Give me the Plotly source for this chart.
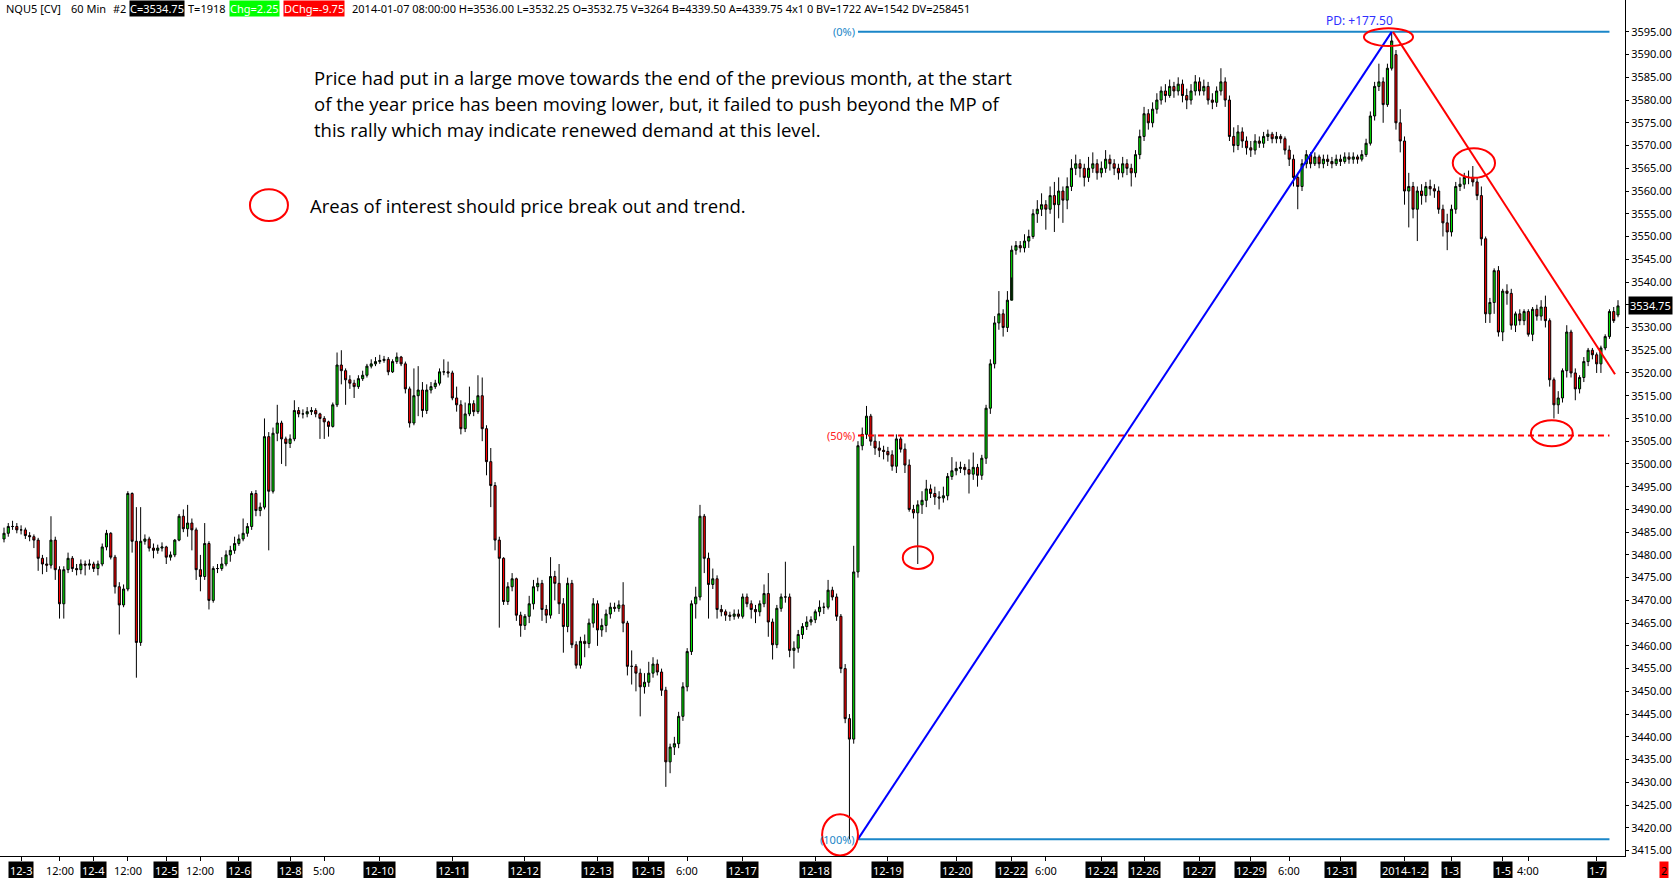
import plotly.graph_objects as go

# NQ 60 min bars, 12-3 to 1-7 (one value per bar)
opens = [
    3483.5, 3484.75, 3486.25, 3486.25, 3485.5, 3485.5, 3484.25, 3484, 3483.25, 3479.25,
    3478, 3477.75, 3483.25, 3476.75, 3469.25, 3476.75, 3479.25, 3477, 3476.75, 3478,
    3477.75, 3478, 3477, 3478, 3481.75, 3484.75, 3479.5, 3473, 3469, 3472.5,
    3493.5, 3483, 3460.75, 3483, 3483.5, 3481.5, 3481, 3481.5, 3481.75, 3479.5,
    3480, 3483.25, 3488.5, 3485.75, 3487, 3485.5, 3476.75, 3475.25, 3482.5, 3470,
    3477, 3477, 3478, 3480, 3481, 3482.5, 3483.5, 3484.75, 3486.25, 3493.5,
    3489.75, 3490.5, 3506, 3494, 3506.75, 3509, 3505.5, 3504.5, 3505.5, 3511.75,
    3511, 3511, 3511.5, 3511.75, 3511, 3510, 3509.25, 3508.25, 3513, 3521.75,
    3520.5, 3518.5, 3517.75, 3517, 3518.75, 3519.5, 3521.5, 3522, 3522.5, 3522.75,
    3523, 3520.25, 3522.5, 3523.5, 3522, 3516.5, 3509, 3515, 3516.25, 3511.75,
    3516.25, 3517, 3517.75, 3520.25, 3520.25, 3520, 3514.5, 3513, 3507.75, 3511,
    3513.25, 3511.5, 3515, 3507.75, 3500.5, 3495.25, 3483.25, 3479.25, 3469.75, 3473,
    3474.75, 3466.75, 3464.5, 3466.5, 3469.25, 3473, 3473.75, 3468, 3466.75, 3475.25,
    3473.75, 3469.25, 3464.25, 3473.75, 3460.25, 3455.75, 3461, 3460.5, 3465, 3469.25,
    3463.5, 3464.5, 3467, 3468.5, 3468.25, 3469, 3465, 3455.5, 3455.5, 3454,
    3451, 3452, 3454, 3456, 3454.25, 3450.25, 3434.5, 3437.75, 3438.5, 3444.5,
    3451, 3458.75, 3469.25, 3470.75, 3488.5, 3479.25, 3473.5, 3474.75, 3468, 3467.5,
    3466.75, 3466.5, 3467, 3466.5, 3470.75, 3469.25, 3468, 3467.5, 3469.25, 3471.5,
    3465.25, 3460.25, 3468.25, 3470.75, 3470.75, 3459, 3459.5, 3462.5, 3464.25, 3465.25,
    3465.75, 3467.5, 3468.5, 3468.5, 3472.25, 3470.75, 3466.5, 3455, 3444, 3439.5,
    3476.25, 3504, 3506.5, 3510.5, 3505, 3503.5, 3503, 3502.75, 3502, 3499.5,
    3505.5, 3503.25, 3499.75, 3490, 3489.25, 3491, 3492, 3494.5, 3493.5, 3492.75,
    3492.5, 3493, 3497.25, 3498.5, 3499, 3499.25, 3498.75, 3497.75, 3499.25, 3497.5,
    3501.25, 3512.25, 3522, 3531, 3533, 3530, 3536, 3547, 3548, 3547.5,
    3549, 3550, 3555, 3556, 3557, 3556, 3559, 3557, 3560, 3558,
    3561, 3565, 3566, 3565, 3563, 3565, 3566, 3564, 3565, 3567,
    3566, 3565, 3564, 3566, 3565, 3564, 3568, 3572, 3577, 3575,
    3578, 3580, 3582, 3581, 3583, 3582, 3583.5, 3581, 3580, 3582,
    3584, 3582, 3583, 3580, 3579.5, 3582, 3584, 3580, 3572, 3570,
    3573, 3571, 3569.5, 3569, 3571, 3570.5, 3572, 3572.5, 3571.5, 3572,
    3571.5, 3569, 3567, 3563, 3561, 3566, 3568, 3566, 3567.5, 3566,
    3567, 3566.5, 3566, 3567, 3566.5, 3567.5, 3567, 3567.5, 3567, 3568,
    3570.5, 3576.5, 3583, 3584, 3579, 3587, 3590, 3575, 3571, 3560,
    3561, 3556, 3560, 3559, 3561, 3560.5, 3560, 3556, 3553, 3551,
    3556, 3561, 3561.5, 3563, 3563, 3562, 3559, 3549.5, 3533, 3535.5,
    3542.5, 3529, 3538, 3537.5, 3530.5, 3533, 3531.5, 3533.5, 3528.5, 3534,
    3532.5, 3534.5, 3531.5, 3518.5, 3513, 3514.5, 3520.5, 3529, 3520, 3516.5,
    3519, 3522.5, 3525, 3524, 3522, 3525.5, 3528, 3533.5, 3532.75,
]
highs = [
    3486, 3487, 3487.5, 3487, 3486.5, 3486, 3485, 3484.5, 3483.75, 3480,
    3479.5, 3488.5, 3484, 3477.5, 3477.5, 3480.5, 3479.75, 3478, 3479, 3478.75,
    3479, 3478.5, 3478.75, 3482.5, 3485.5, 3485, 3480, 3474, 3473.5, 3494,
    3493.75, 3490.5, 3490.5, 3484.5, 3484, 3482.5, 3482.25, 3482.75, 3482, 3480.75,
    3483.5, 3489, 3490, 3491, 3488, 3486, 3480, 3487, 3483, 3477.5,
    3478, 3479.5, 3481, 3482, 3484, 3484.5, 3488, 3487, 3494, 3494.25,
    3491.5, 3510, 3507, 3508, 3513, 3509.5, 3506, 3506.5, 3514, 3512.5,
    3512, 3512.5, 3512.5, 3512.25, 3511.25, 3510.5, 3509.5, 3513.5, 3524.5, 3525,
    3521, 3519.5, 3518.5, 3519.5, 3520.5, 3522, 3523, 3523.5, 3524, 3523.75,
    3523.5, 3523, 3524.5, 3523.75, 3522.5, 3517, 3521, 3521.5, 3518, 3517.5,
    3518, 3518.5, 3521, 3523, 3522.5, 3520.5, 3517, 3514, 3513.5, 3517,
    3514, 3519.5, 3519, 3508.5, 3503.5, 3496, 3484, 3479.5, 3474, 3476,
    3475, 3467.5, 3467, 3471, 3474.5, 3475, 3474.5, 3469, 3479.5, 3476.5,
    3478, 3470.5, 3475, 3474.5, 3461, 3462, 3462.5, 3466, 3470.5, 3470,
    3466, 3468, 3469.5, 3469.5, 3470, 3474, 3465.5, 3459, 3456, 3455,
    3454, 3456.5, 3457.5, 3457, 3455, 3451, 3438.5, 3440, 3445.5, 3452,
    3459.5, 3470, 3473, 3491, 3489, 3480.5, 3477, 3475.5, 3469, 3468,
    3467.5, 3468, 3468, 3471.5, 3471.5, 3470, 3469, 3470, 3473.5, 3476,
    3466, 3469, 3471.5, 3478.5, 3471.5, 3461, 3463.5, 3465, 3466.5, 3466.5,
    3468, 3470, 3469.5, 3474.5, 3473, 3471.5, 3467, 3456, 3445, 3482,
    3505, 3508, 3512.75, 3511, 3506.5, 3505, 3504, 3503.75, 3503, 3506.5,
    3506, 3504.5, 3501, 3491, 3492, 3494, 3496.5, 3495.5, 3495, 3494,
    3495, 3498, 3501.5, 3500.5, 3500.5, 3500, 3501, 3502.5, 3500, 3502,
    3513, 3523, 3532.5, 3538, 3534, 3538, 3548, 3549, 3549, 3550.5,
    3551.5, 3556, 3558, 3559.5, 3558, 3561, 3562, 3563, 3561, 3563,
    3567, 3568, 3567, 3566, 3567.5, 3568.5, 3567, 3566.5, 3569, 3568,
    3567, 3566, 3567.5, 3567, 3566, 3569, 3573.5, 3578.5, 3578, 3579.5,
    3581.5, 3583, 3583.5, 3584.5, 3584, 3585, 3584.5, 3582.5, 3583.5, 3585.5,
    3585, 3584.5, 3584, 3581.5, 3583, 3587, 3585, 3581, 3574, 3574.5,
    3574, 3572, 3571, 3572.5, 3572, 3573, 3573.5, 3573, 3573, 3572.5,
    3572, 3570, 3568, 3564, 3567, 3569, 3568.5, 3568.5, 3568, 3568,
    3568, 3567.5, 3568, 3568, 3568.5, 3568.5, 3568.5, 3568, 3569, 3571.5,
    3577.5, 3584, 3588, 3585, 3588, 3595, 3591, 3578, 3572, 3564,
    3562, 3561, 3561.5, 3562, 3562.5, 3561.5, 3561, 3557, 3555, 3557,
    3562, 3563, 3564, 3564.5, 3565.5, 3563, 3561, 3550, 3536.5, 3543,
    3543.5, 3538.5, 3539.5, 3538.5, 3533.5, 3534, 3534, 3534, 3534.5, 3535,
    3536, 3537, 3532, 3519, 3516, 3521, 3530.5, 3529.5, 3521, 3519.5,
    3523.5, 3525.5, 3525.5, 3524.5, 3526, 3528.5, 3534, 3534.5, 3536,
]
lows = [
    3482.75, 3484, 3485.5, 3484.75, 3484.5, 3483.5, 3483, 3481.5, 3476.5, 3475.75,
    3476.25, 3477, 3474.5, 3466, 3466, 3476, 3476.25, 3475.5, 3475.75, 3475.5,
    3476.75, 3476.25, 3475.5, 3477.5, 3481, 3479, 3471.5, 3462.5, 3468.5, 3472,
    3480.5, 3453, 3460, 3482.25, 3480.75, 3479.25, 3480.25, 3480.75, 3478, 3478.75,
    3479.5, 3483, 3485, 3484, 3481, 3474.5, 3472, 3474.5, 3468, 3469.5,
    3476, 3476.5, 3477.5, 3478.5, 3480.25, 3482, 3483, 3484, 3485.5, 3488.5,
    3488.5, 3490, 3481, 3493.5, 3505, 3500, 3499.5, 3503.5, 3505, 3510.25,
    3510, 3510.25, 3510.75, 3510.25, 3505.5, 3505.5, 3506, 3508, 3512.5, 3517.5,
    3513, 3516.5, 3514.5, 3516.5, 3518.25, 3519, 3521, 3521.5, 3522, 3522.25,
    3519.5, 3520, 3522, 3521.5, 3515.5, 3508, 3508.5, 3510.5, 3510.25, 3511,
    3515.5, 3516.5, 3517.25, 3519.5, 3519, 3514, 3511.5, 3506.5, 3507, 3510.5,
    3510.5, 3511, 3505, 3497.5, 3490.5, 3481, 3464, 3469, 3469, 3472,
    3465.5, 3462, 3463.5, 3465, 3468, 3472, 3465.5, 3465, 3466, 3470,
    3467, 3458.5, 3463, 3459.5, 3455, 3455, 3457.5, 3459.5, 3464, 3460,
    3462, 3463, 3466, 3467.5, 3467.5, 3463, 3453.5, 3451.5, 3450, 3444.5,
    3449.5, 3451, 3453, 3453.5, 3449, 3429, 3432, 3436, 3437.5, 3443.5,
    3450, 3458, 3466, 3470, 3476, 3466, 3472.5, 3466, 3466.5, 3465.5,
    3465.5, 3465.75, 3466, 3466, 3468.5, 3466, 3465, 3466.5, 3468.5, 3462,
    3457, 3459.5, 3467.5, 3469.5, 3457.5, 3455, 3458.5, 3461.5, 3463.5, 3464.5,
    3465, 3466.5, 3467, 3468, 3470, 3465.5, 3454, 3443, 3417.5, 3438.5,
    3475, 3503, 3505.5, 3504, 3502, 3501.5, 3501, 3500.5, 3498.5, 3498,
    3502.5, 3498, 3489.5, 3488, 3478, 3489, 3490.5, 3492.5, 3491, 3490,
    3491.5, 3492, 3496.5, 3497.5, 3498, 3497.5, 3493.5, 3496.5, 3495, 3496.5,
    3500, 3511, 3521, 3529.5, 3528, 3529, 3541, 3546, 3546.5, 3546.5,
    3547.5, 3549.5, 3553, 3554.5, 3551.5, 3555, 3551, 3554, 3553, 3556,
    3560, 3563.5, 3563, 3561, 3562, 3564, 3562.5, 3563, 3564, 3564.5,
    3563.5, 3562.5, 3563, 3563.5, 3561, 3563, 3567, 3571, 3573.5, 3574,
    3577, 3579, 3579.5, 3580.5, 3580.5, 3581, 3579.5, 3578, 3579, 3581,
    3581, 3581, 3579, 3578, 3578.5, 3581, 3578.5, 3571, 3568.5, 3569,
    3569.5, 3568, 3567.5, 3568, 3569.5, 3569.5, 3571, 3570.5, 3570.5, 3570.5,
    3568, 3565.5, 3561, 3556, 3560, 3565, 3565, 3565.5, 3565, 3565,
    3565.5, 3565, 3565.5, 3565.5, 3566, 3566, 3566, 3566, 3566.5, 3567.5,
    3570, 3575.5, 3582, 3575, 3578.5, 3586.5, 3573.5, 3568.5, 3557, 3552,
    3554, 3549, 3557, 3557.5, 3559, 3558.5, 3555, 3550, 3547, 3550,
    3555, 3560, 3560.5, 3561.5, 3561, 3558, 3548, 3531, 3531, 3533,
    3528, 3527, 3535, 3529.5, 3529, 3530.5, 3530.5, 3528, 3527, 3531.5,
    3531.5, 3530, 3517, 3510, 3511, 3513.5, 3519, 3519, 3514, 3515.5,
    3518, 3521.5, 3523, 3520, 3520, 3525, 3527.5, 3531, 3532.25,
]
closes = [
    3484.75, 3486.25, 3486.25, 3485.5, 3485.5, 3484.25, 3484, 3483.25, 3479.25, 3478,
    3477.75, 3483.25, 3476.75, 3469.25, 3476.75, 3479.25, 3477, 3476.75, 3478, 3477.75,
    3478, 3477, 3478, 3481.75, 3484.75, 3479.5, 3473, 3469, 3472.5, 3493.5,
    3483, 3460.75, 3483, 3483.5, 3481.5, 3481, 3481.5, 3481.75, 3479.5, 3480,
    3483.25, 3488.5, 3485.75, 3487, 3485.5, 3476.75, 3475.25, 3482.5, 3470, 3477,
    3477, 3478, 3480, 3481, 3482.5, 3483.5, 3484.75, 3486.25, 3493.5, 3489.75,
    3490.5, 3506, 3494, 3506.75, 3509, 3505.5, 3504.5, 3505.5, 3511.75, 3511,
    3511, 3511.5, 3511.75, 3511, 3510, 3509.25, 3508.25, 3513, 3521.75, 3520.5,
    3518.5, 3517.75, 3517, 3518.75, 3519.5, 3521.5, 3522, 3522.5, 3522.75, 3523,
    3520.25, 3522.5, 3523.5, 3522, 3516.5, 3509, 3515, 3516.25, 3511.75, 3516.25,
    3517, 3517.75, 3520.25, 3520.25, 3520, 3514.5, 3513, 3507.75, 3511, 3513.25,
    3511.5, 3515, 3507.75, 3500.5, 3495.25, 3483.25, 3479.25, 3469.75, 3473, 3474.75,
    3466.75, 3464.5, 3466.5, 3469.25, 3473, 3473.75, 3468, 3466.75, 3475.25, 3473.75,
    3469.25, 3464.25, 3473.75, 3460.25, 3455.75, 3461, 3460.5, 3465, 3469.25, 3463.5,
    3464.5, 3467, 3468.5, 3468.25, 3469, 3465, 3455.5, 3455.5, 3454, 3451,
    3452, 3454, 3456, 3454.25, 3450.25, 3434.5, 3437.75, 3438.5, 3444.5, 3451,
    3458.75, 3469.25, 3470.75, 3488.5, 3479.25, 3473.5, 3474.75, 3468, 3467.5, 3466.75,
    3466.5, 3467, 3466.5, 3470.75, 3469.25, 3468, 3467.5, 3469.25, 3471.5, 3465.25,
    3460.25, 3468.25, 3470.75, 3470.75, 3459, 3459.5, 3462.5, 3464.25, 3465.25, 3465.75,
    3467.5, 3468.5, 3468.5, 3472.25, 3470.75, 3466.5, 3455, 3444, 3439.5, 3476.25,
    3504, 3506.5, 3510.5, 3505, 3503.5, 3503, 3502.75, 3502, 3499.5, 3505.5,
    3503.25, 3499.75, 3490, 3489.25, 3491, 3492, 3494.5, 3493.5, 3492.75, 3492.5,
    3493, 3497.25, 3498.5, 3499, 3499.25, 3498.75, 3497.75, 3499.25, 3497.5, 3501.25,
    3512.25, 3522, 3531, 3533, 3530, 3536, 3547, 3548, 3547.5, 3549,
    3550, 3555, 3556, 3557, 3556, 3559, 3557, 3560, 3558, 3561,
    3565, 3566, 3565, 3563, 3565, 3566, 3564, 3565, 3567, 3566,
    3565, 3564, 3566, 3565, 3564, 3568, 3572, 3577, 3575, 3578,
    3580, 3582, 3581, 3583, 3582, 3583.5, 3581, 3580, 3582, 3584,
    3582, 3583, 3580, 3579.5, 3582, 3584, 3580, 3572, 3570, 3573,
    3571, 3569.5, 3569, 3571, 3570.5, 3572, 3572.5, 3571.5, 3572, 3571.5,
    3569, 3567, 3563, 3561, 3566, 3568, 3566, 3567.5, 3566, 3567,
    3566.5, 3566, 3567, 3566.5, 3567.5, 3567, 3567.5, 3567, 3568, 3570.5,
    3576.5, 3583, 3584, 3579, 3587, 3593, 3575, 3571, 3560, 3561,
    3556, 3560, 3559, 3561, 3560.5, 3560, 3556, 3553, 3551, 3556,
    3561, 3561.5, 3563, 3563, 3562, 3559, 3549.5, 3533, 3535.5, 3542.5,
    3529, 3538, 3537.5, 3530.5, 3533, 3531.5, 3533.5, 3528.5, 3534, 3532.5,
    3534.5, 3531.5, 3518.5, 3513, 3514.5, 3520.5, 3529, 3520, 3516.5, 3519,
    3522.5, 3525, 3524, 3522, 3525.5, 3528, 3533.5, 3531.5, 3534.75,
]
bars = list(range(len(closes)))

# axis labels (bar index where each label sits)
day_labels = ["12-3", "12-4", "12-5", "12-6", "12-8", "12-10", "12-11", "12-12",
              "12-13", "12-15", "12-17", "12-18", "12-19", "12-20", "12-22", "12-24",
              "12-26", "12-27", "12-29", "12-31", "2014-1-2", "1-3", "1-5", "1-7"]
day_bars = [4, 21, 38, 55, 67, 88, 105, 122, 139, 151, 173, 190, 207, 223, 236, 257,
            267, 280, 292, 313, 328, 339, 351, 373]
time_labels = ["12:00", "12:00", "12:00", "5:00", "6:00", "6:00", "6:00", "4:00"]
time_bars = [13, 29, 46, 75, 160, 244, 301, 357]
price_ticks = list(range(3415, 3600, 5))

# fib retracement of the 12-18 -> 1-2 swing
fib_levels = [3595.0, 3506.25, 3417.5]
fib_names = ["(0%)", "(50%)", "(100%)"]
fib_colors = ["#1a86c8", "#ff2020", "#1a86c8"]

note_lines = [
    "Price had put in a large move towards the end of the previous month, at the start",
    "of the year price has been moving lower, but, it failed to push beyond the MP of",
    "this rally which may indicate renewed demand at this level.",
]
legend_note = "Areas of interest should price break out and trend."

PLOT_W, PLOT_H = 1625, 856


def px(x):
    return x / PLOT_W


def py(y):
    return 1 - y / PLOT_H


FONT = "Noto Sans"

fig = go.Figure(go.Candlestick(
    x=bars, open=opens, high=highs, low=lows, close=closes,
    increasing=dict(line=dict(color="black", width=1), fillcolor="#00e000"),
    decreasing=dict(line=dict(color="black", width=1), fillcolor="#ff0000"),
    whiskerwidth=0, showlegend=False, hoverinfo="skip",
))

shapes = []
# fib horizontal lines
for lvl, col in zip(fib_levels, fib_colors):
    mid = lvl == fib_levels[1]
    shapes.append(dict(type="line", xref="x", yref="y", x0=200, x1=376, y0=lvl, y1=lvl,
                       line=dict(color="#ff0000" if mid else col, width=2,
                                 dash="6px,4px" if mid else "solid")))
# swing line and trend line
shapes.append(dict(type="line", xref="x", yref="y", x0=200, y0=3417.5, x1=325, y1=3595,
                   line=dict(color="#0000ff", width=2)))
shapes.append(dict(type="line", xref="x", yref="y", x0=325.3, y0=3595, x1=377.3, y1=3519.7,
                   line=dict(color="#ff0000", width=2)))
# red circles
for x0, x1, y0, y1 in [(57.6, 66.5, 3553.4, 3560.4), (191.6, 200, 3413.9, 3423.0),
                       (210.5, 217.6, 3476.9, 3481.9), (318.5, 330, 3591.9, 3595.8),
                       (339.3, 349.2, 3562.9, 3569.4), (357.6, 367.4, 3503.9, 3509.6)]:
    shapes.append(dict(type="circle", xref="x", yref="y", x0=x0, x1=x1, y0=y0, y1=y1,
                       line=dict(color="#ff0000", width=2)))

ann = []
# header strip
header = [
    ("NQU5 [CV]", 5, None, "black"),
    ("60 Min", 70, None, "black"),
    ("#2", 112, None, "black"),
    ("C=3534.75", 129, "black", "white"),
    ("T=1918", 187, None, "black"),
    ("Chg=2.25", 229, "#00ff00", "white"),
    ("DChg=-9.75", 283, "#ff0000", "white"),
    ("2014-01-07 08:00:00 H=3536.00 L=3532.25 O=3532.75 V=3264 B=4339.50 "
     "A=4339.75 4x1 0 BV=1722 AV=1542 DV=258451", 351, None, "black"),
]
for txt, x, bg, fg in header:
    ann.append(dict(text=txt, xref="paper", yref="paper", x=px(x), y=py(8),
                    xanchor="left", yanchor="middle", showarrow=False, borderpad=0,
                    bgcolor=bg or "rgba(0,0,0,0)", font=dict(family=FONT, size=11, color=fg)))

# commentary
for k, line in enumerate(note_lines):
    ann.append(dict(text=line, xref="paper", yref="paper", x=px(312), y=py(77 + 26.2 * k),
                    xanchor="left", yanchor="middle", showarrow=False,
                    font=dict(family="Open Sans", size=18.5, color="black")))
ann.append(dict(text=legend_note, xref="paper", yref="paper", x=px(308), y=py(205),
                xanchor="left", yanchor="middle", showarrow=False,
                font=dict(family="Open Sans", size=18.5, color="black")))

# fib labels
for lvl, name, col in zip(fib_levels, fib_names, fib_colors):
    ann.append(dict(text=name, xref="x", yref="y", x=200, y=lvl, xanchor="right",
                    yanchor="middle", showarrow=False, xshift=-1,
                    font=dict(family=FONT, size=11, color=col)))
ann.append(dict(text="PD: +177.50", xref="x", yref="y", x=317.5, y=3597.6, showarrow=False,
                font=dict(family=FONT, size=12, color="#3030ff")))

# last price on the price scale
ann.append(dict(text=f"{closes[-1]:.2f}", xref="paper", yref="y", x=1, y=closes[-1],
                xanchor="left", xshift=3, showarrow=False, bgcolor="black", borderpad=1,
                font=dict(family=FONT, size=11, color="white")))

# time axis labels
for lab, b in zip(day_labels, day_bars):
    ann.append(dict(text=lab, xref="x", yref="paper", x=b, y=0, yanchor="top", yshift=-5,
                    showarrow=False, bgcolor="black", borderpad=1,
                    font=dict(family=FONT, size=11, color="white")))
for lab, b in zip(time_labels, time_bars):
    ann.append(dict(text=lab, xref="x", yref="paper", x=b, y=0, yanchor="top", yshift=-5,
                    showarrow=False, borderpad=1,
                    font=dict(family=FONT, size=11, color="black")))
ann.append(dict(text="2", xref="paper", yref="paper", x=px(1659), y=0, xanchor="left",
                yanchor="top", yshift=-5, showarrow=False, bgcolor="#ff0000", borderpad=1,
                font=dict(family=FONT, size=11, color="black")))

fig.update_layout(
    width=1675, height=878,
    margin=dict(l=0, r=50, t=0, b=22),
    paper_bgcolor="white", plot_bgcolor="white",
    shapes=shapes, annotations=ann,
    xaxis=dict(range=[-0.94, 379.64], rangeslider=dict(visible=False), showgrid=False,
               zeroline=False, showline=True, linecolor="black", linewidth=1,
               tickvals=day_bars + time_bars, ticks="outside", ticklen=4,
               tickcolor="black", showticklabels=False),
    yaxis=dict(side="right", range=[3413.8, 3602.0], tickvals=price_ticks,
               tickformat=".2f", ticks="outside", ticklen=3, tickcolor="black",
               showline=True, linecolor="black", linewidth=1, showgrid=False,
               zeroline=False, tickfont=dict(family=FONT, size=11, color="black")),
)

# page margin off so the 1675x878 figure fills the window exactly
fig.write_html("out.html", config={"displayModeBar": False},
               post_script="document.body.style.margin='0';"
                           "document.body.style.overflow='hidden';")
